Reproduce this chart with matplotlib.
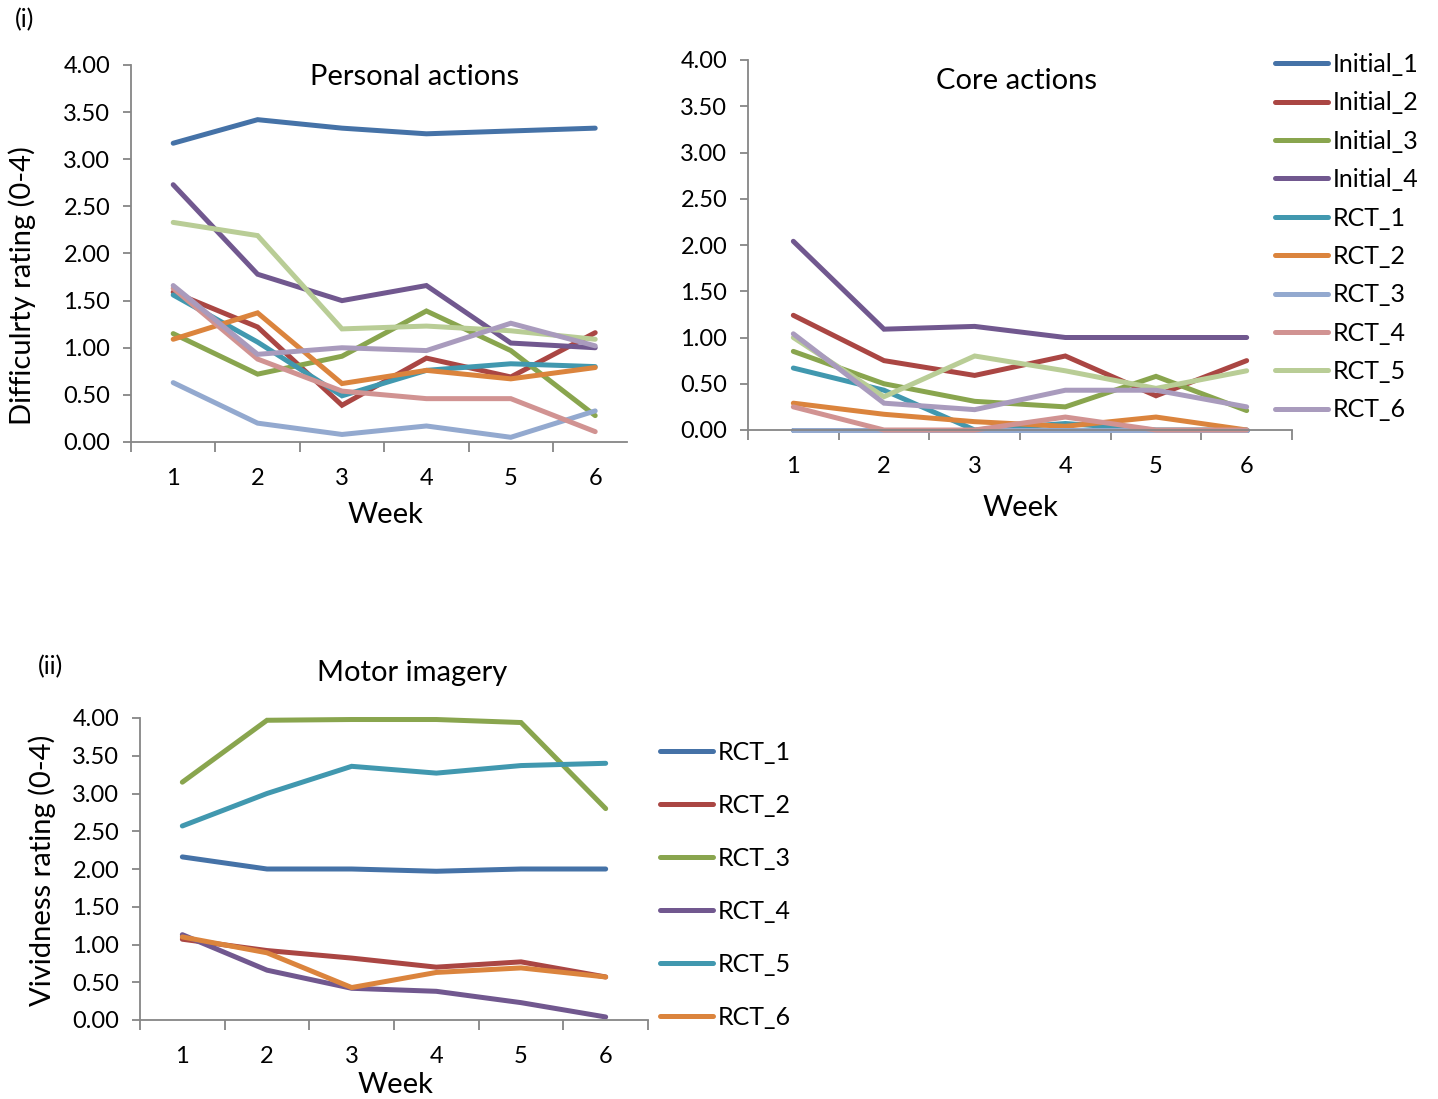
import matplotlib
matplotlib.use("Agg")
import matplotlib.pyplot as plt
import numpy as np

plt.rcParams['font.family'] = ['Lato', 'DejaVu Sans']

weeks = [1, 2, 3, 4, 5, 6]
week_labels = ["1", "2", "3", "4", "5", "6"]

names_i = ["Initial_1", "Initial_2", "Initial_3", "Initial_4",
           "RCT_1", "RCT_2", "RCT_3", "RCT_4", "RCT_5", "RCT_6"]

personal = {
    "Initial_1": [3.17, 3.42, 3.33, 3.27, 3.30, 3.33],
    "Initial_2": [1.59, 1.22, 0.39, 0.89, 0.69, 1.16],
    "Initial_3": [1.15, 0.72, 0.91, 1.39, 0.97, 0.28],
    "Initial_4": [2.73, 1.78, 1.50, 1.66, 1.05, 1.00],
    "RCT_1": [1.56, 1.06, 0.49, 0.76, 0.83, 0.80],
    "RCT_2": [1.09, 1.37, 0.62, 0.76, 0.67, 0.79],
    "RCT_3": [0.63, 0.20, 0.08, 0.17, 0.05, 0.33],
    "RCT_4": [1.63, 0.88, 0.54, 0.46, 0.46, 0.11],
    "RCT_5": [2.33, 2.19, 1.20, 1.23, 1.18, 1.09],
    "RCT_6": [1.66, 0.93, 1.00, 0.97, 1.26, 1.02],
}

core = {
    "Initial_1": [0.00, 0.00, 0.00, 0.00, 0.00, 0.00],
    "Initial_2": [1.24, 0.75, 0.59, 0.80, 0.37, 0.75],
    "Initial_3": [0.85, 0.50, 0.31, 0.25, 0.58, 0.21],
    "Initial_4": [2.04, 1.09, 1.12, 1.00, 1.00, 1.00],
    "RCT_1": [0.67, 0.43, 0.00, 0.07, 0.00, 0.00],
    "RCT_2": [0.29, 0.17, 0.09, 0.04, 0.14, 0.00],
    "RCT_3": [0.00, 0.00, 0.00, 0.00, 0.00, 0.00],
    "RCT_4": [0.25, 0.00, 0.00, 0.14, 0.00, 0.00],
    "RCT_5": [1.00, 0.36, 0.80, 0.64, 0.45, 0.64],
    "RCT_6": [1.04, 0.29, 0.22, 0.43, 0.43, 0.25],
}

names_m = ["RCT_1", "RCT_2", "RCT_3", "RCT_4", "RCT_5", "RCT_6"]
motor = {
    "RCT_1": [2.16, 2.00, 2.00, 1.97, 2.00, 2.00],
    "RCT_2": [1.07, 0.92, 0.82, 0.70, 0.77, 0.57],
    "RCT_3": [3.15, 3.97, 3.98, 3.98, 3.94, 2.80],
    "RCT_4": [1.13, 0.66, 0.42, 0.38, 0.23, 0.04],
    "RCT_5": [2.57, 3.00, 3.36, 3.27, 3.37, 3.40],
    "RCT_6": [1.10, 0.89, 0.43, 0.63, 0.69, 0.57],
}

palette = ["#4572A7", "#AA4643", "#89A54E", "#71588F", "#4198AF",
           "#DB843D", "#93A9CF", "#D19392", "#B9CD96", "#A99BBD"]
colors_i = dict(zip(names_i, palette))
colors_m = dict(zip(names_m, palette[:6]))

yticks = [0, 0.5, 1.0, 1.5, 2.0, 2.5, 3.0, 3.5, 4.0]

W, H = 1438, 1099
fig = plt.figure(figsize=(W / 100, H / 100), dpi=100)


def px_axes(left, top, right, bottom):
    return fig.add_axes([left / W, 1 - bottom / H, (right - left) / W, (bottom - top) / H])


def ftext(x, y, s, **kw):
    return fig.text(x / W, 1 - y / H, s, **kw)


AX = "#868686"
LW = 3.6
TICKFS = 17
LABFS = 21
LEGFS = 18


def style(ax, xmax):
    ax.set_ylim(0, 4.0)
    ax.set_xlim(0.5, xmax)
    for s in ["top", "right"]:
        ax.spines[s].set_visible(False)
    for s in ["left", "bottom"]:
        ax.spines[s].set_color(AX)
        ax.spines[s].set_linewidth(1.3)
    ax.set_yticks(yticks)
    ax.set_yticklabels([f"{v:.2f}" for v in yticks])
    ax.set_xticks(weeks)
    ax.set_xticklabels(week_labels)
    ax.set_xticks([b + 0.5 for b in range(0, 7) if b + 0.5 <= xmax + 1e-6], minor=True)
    ax.tick_params(axis="x", which="major", length=0, pad=18.5, labelsize=TICKFS)
    ax.tick_params(axis="x", which="minor", length=7, width=1.3, color=AX, direction="out")
    ax.tick_params(axis="y", which="major", length=6, width=1.3, color=AX, pad=9, labelsize=TICKFS)


def draw(ax, data, names, colors):
    for n in names:
        ax.plot(weeks, data[n], color=colors[n], lw=LW, solid_capstyle="round",
                solid_joinstyle="miter", clip_on=False, label=n)


# Personal actions
ax1 = px_axes(131, 65, 627, 442)
draw(ax1, personal, names_i, colors_i)
style(ax1, 0.5 + (627 - 131) / 84.4)
ftext(385, 515, "Week", fontsize=LABFS, ha="center", va="center")
ftext(22, 286, "Difficulrty rating (0-4)", fontsize=LABFS, ha="center", va="center", rotation=90)
ftext(415, 77, "Personal actions", fontsize=LABFS, ha="center", va="center")

# Core actions
ax2 = px_axes(748, 60, 1292, 430)
draw(ax2, core, names_i, colors_i)
style(ax2, 6.5)
ftext(1020, 508, "Week", fontsize=LABFS, ha="center", va="center")
ftext(1017, 81, "Core actions", fontsize=LABFS, ha="center", va="center")
ax2.legend(loc="upper left", bbox_to_anchor=(1275 / W, 1 - 53 / H),
           bbox_transform=fig.transFigure, frameon=False, fontsize=LEGFS,
           handlelength=2.12, handletextpad=0.2, labelspacing=0.615,
           borderaxespad=0, borderpad=0)

# Motor imagery
ax3 = px_axes(140, 718, 648, 1020)
draw(ax3, motor, names_m, colors_m)
style(ax3, 6.5)
ftext(395, 1085, "Week", fontsize=LABFS, ha="center", va="center")
ftext(42, 870, "Vividness rating (0-4)", fontsize=LABFS, ha="center", va="center", rotation=90)
ftext(412, 673, "Motor imagery", fontsize=LABFS, ha="center", va="center")
ax3.legend(loc="upper left", bbox_to_anchor=(660 / W, 1 - 741 / H),
           bbox_transform=fig.transFigure, frameon=False, fontsize=LEGFS,
           handlelength=2.12, handletextpad=0.2, labelspacing=1.2,
           borderaxespad=0, borderpad=0)

ftext(15, 20, "(i)", fontsize=18, va="center", ha="left")
ftext(38, 667, "(ii)", fontsize=18, va="center", ha="left")

fig.savefig("out.png", dpi=100)
